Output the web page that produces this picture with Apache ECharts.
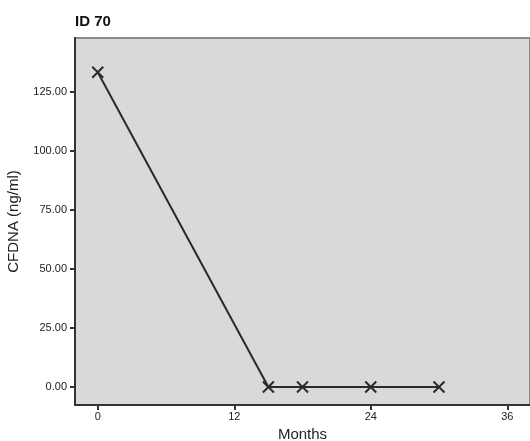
<!DOCTYPE html>
<html>
<head>
<meta charset="utf-8">
<script src="https://cdn.jsdelivr.net/npm/echarts@6/dist/echarts.min.js"></script>
<style>
  html, body { margin: 0; padding: 0; background: #fff; }
  #chart { width: 530px; height: 441px; }
</style>
</head>
<body>
<div id="chart"></div>
<script>
// Follow-up measurements for one patient
const months = [0, 15, 18, 24, 30];
const cfdna = [133.5, 0, 0, 0, 0];
const xTicks = [0, 12, 24, 36];
const yTicks = [0, 25, 50, 75, 100, 125];

const chart = echarts.init(document.getElementById('chart'));
const font = '"Liberation Sans", Arial, sans-serif';

chart.setOption({
  animation: false,
  title: {
    text: 'ID 70',
    left: 75,
    top: 14,
    padding: 0,
    textStyle: { fontFamily: font, fontSize: 15, fontWeight: 'bold', color: '#111' }
  },
  grid: {
    left: 75, right: 0, top: 38, bottom: 36,
    outerBoundsMode: 'none',
    containLabel: false,
    show: true,
    backgroundColor: '#d9d9d9',
    borderColor: '#8a8a8a',
    borderWidth: 2
  },
  xAxis: {
    type: 'value',
    min: -2, max: 38,
    name: 'Months',
    nameLocation: 'middle',
    nameGap: 22,
    nameTextStyle: { fontFamily: font, fontSize: 15, color: '#222' },
    splitLine: { show: false },
    axisLine: { show: true, onZero: false, lineStyle: { color: '#333', width: 2 } },
    axisTick: { show: true, customValues: xTicks, length: 5, lineStyle: { color: '#333', width: 2 } },
    axisLabel: { customValues: xTicks, fontFamily: font, fontSize: 11, color: '#222', margin: 6 }
  },
  yAxis: {
    type: 'value',
    min: -7.6, max: 148,
    name: 'CFDNA (ng/ml)',
    nameLocation: 'middle',
    nameGap: 54,
    nameTextStyle: { fontFamily: font, fontSize: 15, color: '#222' },
    splitLine: { show: false },
    axisLine: { show: true, onZero: false, lineStyle: { color: '#333', width: 2 } },
    axisTick: { show: true, customValues: yTicks, length: 5, lineStyle: { color: '#333', width: 2 } },
    axisLabel: {
      customValues: yTicks,
      fontFamily: font, fontSize: 11, color: '#222', margin: 8,
      formatter: v => v.toFixed(2)
    }
  },
  series: [{
    type: 'line',
    data: months.map((m, i) => [m, cfdna[i]]),
    lineStyle: { color: '#2a2a2a', width: 2 },
    symbol: 'path://M0,0L10,10M10,0L0,10',
    symbolSize: 11,
    itemStyle: { color: '#2a2a2a', borderColor: '#2a2a2a', borderWidth: 2 }
  }]
});
</script>
</body>
</html>
